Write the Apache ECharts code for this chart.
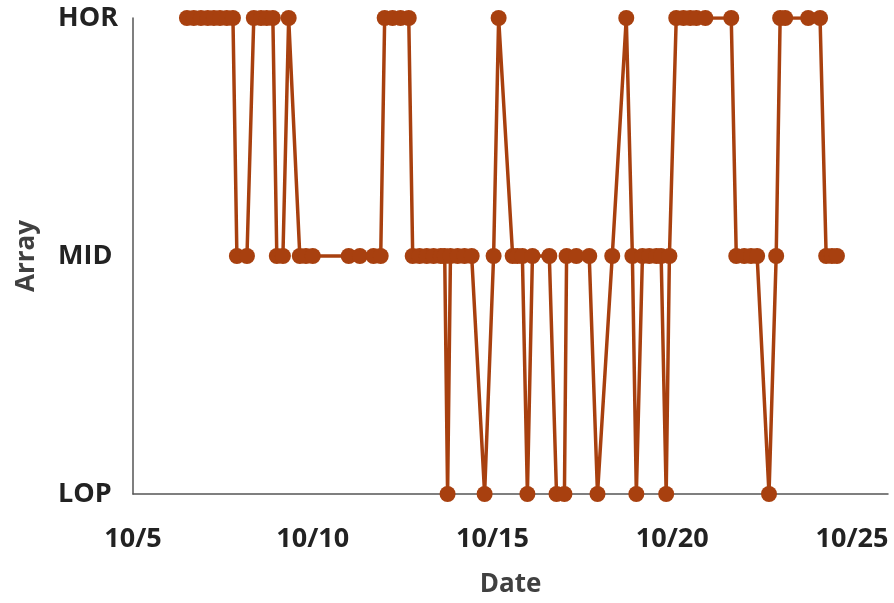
<!DOCTYPE html>
<html>
<head>
<meta charset="utf-8">
<script src="https://cdn.jsdelivr.net/npm/echarts@6/dist/echarts.min.js"></script>
<style>
  html, body { margin: 0; padding: 0; background: #fff; }
  #chart { width: 894px; height: 603px; }
</style>
</head>
<body>
<div id="chart"></div>
<script>
// y categories, bottom to top
const arrays = ['LOP', 'MID', 'HOR']
// x ticks: day of October
const dayTicks = [5, 10, 15, 20, 25]

// observation time (day of October, fractional) and array in use
const days = [
  6.50, 6.69, 6.89, 7.08, 7.25, 7.42, 7.61, 7.78,
  7.89, 8.17,
  8.36, 8.56, 8.72, 8.89,
  9.00, 9.17,
  9.33,
  9.64, 9.81, 10.00, 11.00, 11.31, 11.69, 11.89,
  12.00, 12.22, 12.44, 12.67,
  12.78, 12.97, 13.17, 13.36, 13.56, 13.67,
  13.75,
  13.83, 14.03, 14.22, 14.42,
  14.78,
  15.03,
  15.17,
  15.56, 15.69, 15.83,
  15.97,
  16.11, 16.58,
  16.78, 17.00,
  17.06, 17.33, 17.69,
  17.92,
  18.33,
  18.72,
  18.89,
  19.00,
  19.17, 19.36, 19.56, 19.69,
  19.83,
  19.92,
  20.11, 20.31, 20.50, 20.67, 20.92, 21.64,
  21.78, 22.00, 22.19, 22.36,
  22.69,
  22.89,
  23.00, 23.14, 23.78, 24.11,
  24.28, 24.44, 24.58
]
const levels = [
  'HOR', 'HOR', 'HOR', 'HOR', 'HOR', 'HOR', 'HOR', 'HOR',
  'MID', 'MID',
  'HOR', 'HOR', 'HOR', 'HOR',
  'MID', 'MID',
  'HOR',
  'MID', 'MID', 'MID', 'MID', 'MID', 'MID', 'MID',
  'HOR', 'HOR', 'HOR', 'HOR',
  'MID', 'MID', 'MID', 'MID', 'MID', 'MID',
  'LOP',
  'MID', 'MID', 'MID', 'MID',
  'LOP',
  'MID',
  'HOR',
  'MID', 'MID', 'MID',
  'LOP',
  'MID', 'MID',
  'LOP', 'LOP',
  'MID', 'MID', 'MID',
  'LOP',
  'MID',
  'HOR',
  'MID',
  'LOP',
  'MID', 'MID', 'MID', 'MID',
  'LOP',
  'MID',
  'HOR', 'HOR', 'HOR', 'HOR', 'HOR', 'HOR',
  'MID', 'MID', 'MID', 'MID',
  'LOP',
  'MID',
  'HOR', 'HOR', 'HOR', 'HOR',
  'MID', 'MID', 'MID'
]

const color = '#A8400F'
const textColor = '#222'
const font = '"Open Sans", "DejaVu Sans", sans-serif'

const chart = echarts.init(document.getElementById('chart'))

chart.setOption({
  animation: false,
  grid: { left: 133, right: 6, top: 18, bottom: 108 },
  xAxis: {
    type: 'value',
    min: 5,
    max: 26,
    interval: 5,
    name: 'Date',
    nameLocation: 'middle',
    nameGap: 78,
    nameTextStyle: { fontFamily: font, fontWeight: 'bold', fontSize: 26, color: '#404040' },
    axisLine: { show: true, lineStyle: { color: '#555', width: 1.5 } },
    axisTick: { show: false },
    splitLine: { show: false },
    axisLabel: {
      margin: 32,
      fontFamily: font,
      fontWeight: 'bold',
      fontSize: 27,
      color: textColor,
      showMaxLabel: false,
      formatter: (v) => (dayTicks.includes(v) ? '10/' + v : '')
    }
  },
  yAxis: {
    type: 'category',
    data: arrays,
    boundaryGap: false,
    name: 'Array',
    nameLocation: 'middle',
    nameGap: 93,
    nameRotate: 90,
    nameTextStyle: { fontFamily: font, fontWeight: 'bold', fontSize: 26, color: '#404040' },
    axisLine: { show: true, lineStyle: { color: '#555', width: 1.5 } },
    axisTick: { show: false },
    splitLine: { show: false },
    axisLabel: {
      align: 'left',
      margin: 75,
      fontFamily: font,
      fontWeight: 'bold',
      fontSize: 27,
      color: textColor
    }
  },
  series: [
    {
      type: 'line',
      data: days.map((d, i) => [d, levels[i]]),
      symbol: 'circle',
      symbolSize: 16,
      lineStyle: { color, width: 3.5 },
      itemStyle: { color },
      clip: false
    }
  ]
})
</script>
</body>
</html>
